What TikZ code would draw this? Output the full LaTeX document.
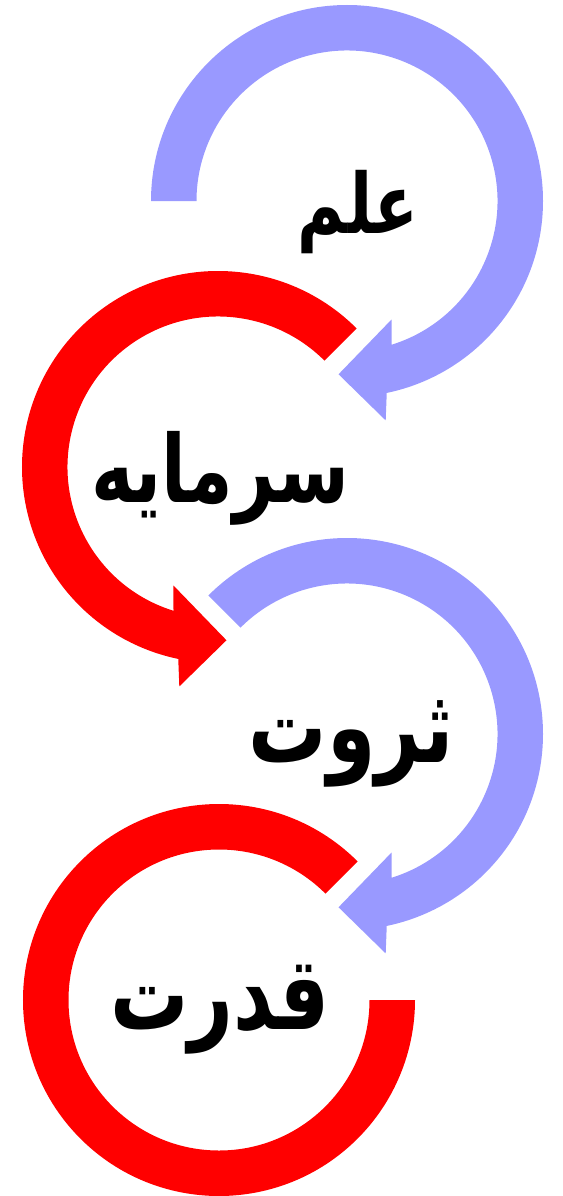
\documentclass[tikz,border=0pt]{standalone}
\usepackage{graphicx}
\usepackage{fontspec}
\newfontfamily\arabicfont[Script=Arabic]{DejaVu Sans}
\TeXXeTstate=1
\definecolor{ablue}{HTML}{9999FF}
\definecolor{ared}{HTML}{FF0000}
\tikzset{
  lbl/.style={font=\arabicfont\bfseries, inner sep=0pt, text=black},
}
\newcommand{\fawordx}[2]{\scalebox{1}[1.3]{\fontsize{#1}{#1}\selectfont\beginR #2\endR}}
\begin{document}
\begin{tikzpicture}[x=1pt,y=1pt]
\useasboundingbox (0,0) rectangle (562,-1196);
% ring 1 (blue)
\begin{scope}[shift={(347,-201)}]
\fill[ablue] (180:196pt) arc[start angle=180, end angle=-78.3, radius=196pt]
  -- (-80:222.8pt) -- (-92.8:173.5pt) -- (-69.4:126.6pt) -- (-72.8:150.5pt)
  arc[start angle=-72.8, end angle=180, radius=150.5pt] -- cycle;
\end{scope}
% ring 2 (red)
\begin{scope}[shift={(218,-467)}]
\fill[ared] (45:196pt) arc[start angle=45, end angle=258.3, radius=196pt]
  -- (260:222.8pt) -- (272.8:173.5pt) -- (249.4:126.6pt) -- (252.8:150.5pt)
  arc[start angle=252.8, end angle=45, radius=150.5pt] -- cycle;
\end{scope}
% ring 3 (blue)
\begin{scope}[shift={(347,-734)}]
\fill[ablue] (135:196pt) arc[start angle=135, end angle=-78.3, radius=196pt]
  -- (-80:222.8pt) -- (-92.8:173.5pt) -- (-69.4:126.6pt) -- (-72.8:150.5pt)
  arc[start angle=-72.8, end angle=135, radius=150.5pt] -- cycle;
\end{scope}
% ring 4 (red)
\begin{scope}[shift={(219,-1000)}]
\fill[ared] (45:196pt) arc[start angle=45, end angle=360, radius=196pt]
  -- (0:150.5pt)
  arc[start angle=360, end angle=45, radius=150.5pt] -- cycle;
\end{scope}
\node[lbl] (t1) at (358,-212) {\fawordx{64}{علم}};
\node[lbl] (t2) at (220,-478) {\fawordx{72}{سرمایه}};
\node[lbl] (t3) at (351,-744) {\fawordx{78}{ثروت}};
\node[lbl] (t4) at (220,-1010) {\fawordx{78}{قدرت}};
\end{tikzpicture}
\end{document}
